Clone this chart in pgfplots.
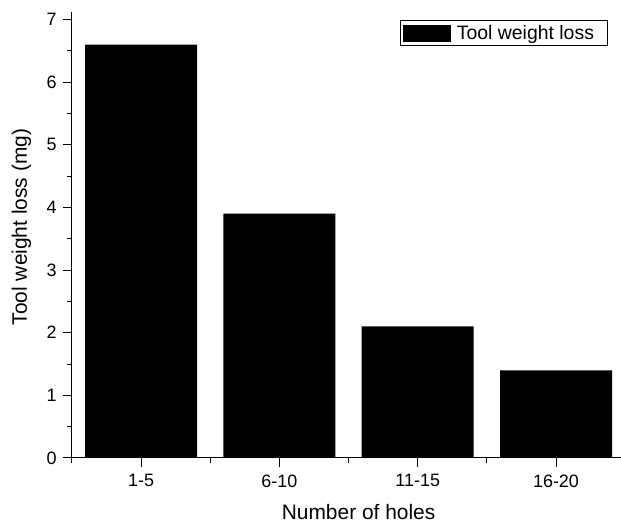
\documentclass[border=0pt]{standalone}
\usepackage{pgfplots}
\pgfplotsset{compat=1.18}
\usepackage{fontspec}
\setmainfont{Liberation Sans}
\begin{document}
\begin{tikzpicture}
\path[use as bounding box] (-72bp,-66bp) rectangle (549bp,458bp);
\begin{axis}[
  at={(0,0)}, anchor=south west,
  scale only axis,
  width=549bp, height=446.3bp,
  xmin=0.5, xmax=4.47,
  ymin=0, ymax=7.125,
  axis x line=bottom, axis y line=left,
  axis line style={-, line width=1bp, black},
  every tick/.style={line width=1bp, black},
  tick align=outside,
  major tick length=8.5bp, minor tick length=5bp,
  xtick={1,2,3,4},
  xticklabels={1-5,6-10,11-15,16-20},
  minor xtick={0.5,1.5,2.5,3.5,4.5},
  ytick={0,1,2,3,4,5,6,7},
  minor ytick={0.5,1.5,2.5,3.5,4.5,5.5,6.5},
  /pgf/number format/assume math mode=true,
  tick label style={font=\fontsize{18}{20}\selectfont},
  xticklabel style={yshift=-4.5bp},
  yticklabel style={xshift=-3.5bp},
  label style={font=\fontsize{21}{24}\selectfont},
  xlabel={Number of holes},
  ylabel={Tool weight loss (mg)},
  xlabel style={at={(axis description cs:0.522,-0.1389)}, anchor=base},
  ylabel style={at={(axis description cs:-0.08197,0.5176)}, anchor=base},
  legend style={at={(0.9745,0.981)}, anchor=north east,
    draw=black, line width=0.6bp, inner sep=0pt, outer sep=0pt,
    font=\fontsize{19.5}{22}\selectfont,
    cells={anchor=base west}, nodes={inner sep=0pt},
    column sep=0pt},
]
\addplot[ybar, bar width=0.81, fill=black, draw=none,
  legend image code/.code={%
    \path[draw=none, fill=none] (0bp,-5.7bp) rectangle (57bp,19.3bp);
    \fill[black] (3bp,-2.7bp) rectangle (51bp,14.3bp);
  }] coordinates {(1,6.6) (2,3.9) (3,2.1) (4,1.4)};
\addlegendentry{Tool weight loss\hspace*{13bp}}
\end{axis}
\end{tikzpicture}
\end{document}
